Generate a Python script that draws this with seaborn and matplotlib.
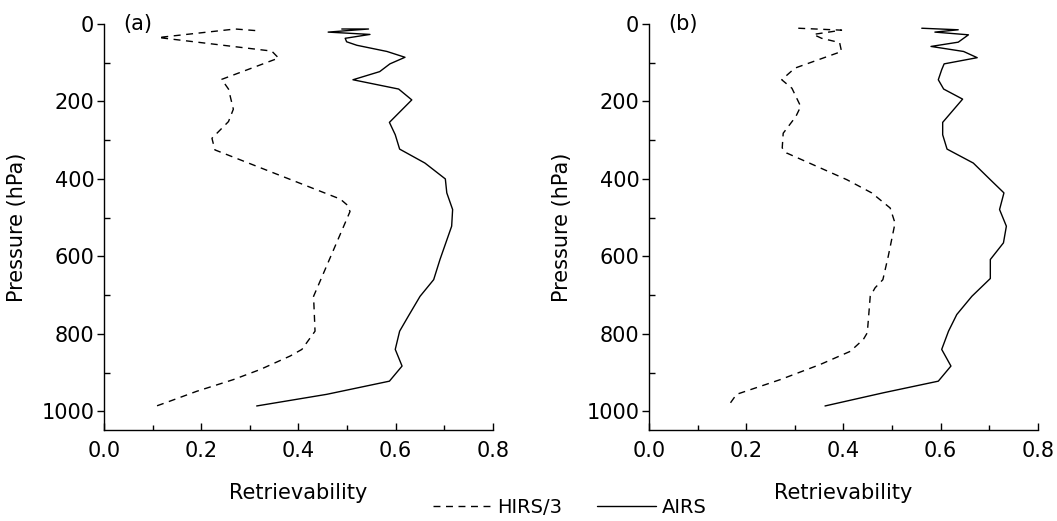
import matplotlib
matplotlib.use('Agg')
import matplotlib.pyplot as plt
import seaborn as sns
from matplotlib.ticker import MultipleLocator
from matplotlib.lines import Line2D

# values
hirs_a_x = [0.311, 0.27, 0.112, 0.345, 0.359, 0.242, 0.256, 0.266, 0.256, 0.222, 0.228,
            0.486, 0.499, 0.506, 0.431, 0.434, 0.407, 0.383, 0.321, 0.266, 0.191, 0.126, 0.108]
hirs_a_p = [17, 13, 35, 70, 88, 143, 168, 220, 252, 295, 325,
            452, 466, 484, 703, 793, 840, 857, 892, 918, 948, 978, 986]

airs_a_x = [0.489, 0.544, 0.461, 0.547, 0.496, 0.499, 0.52, 0.582, 0.619, 0.588, 0.567,
            0.512, 0.606, 0.633, 0.587, 0.599, 0.608, 0.660, 0.702, 0.705, 0.717, 0.715,
            0.691, 0.678, 0.650, 0.626, 0.608, 0.599, 0.613, 0.587, 0.458, 0.314]
airs_a_p = [13, 13, 21, 27, 37, 46, 55, 71, 86, 103, 123,
            144, 168, 196, 254, 286, 323, 359, 400, 436, 479, 522,
            608, 660, 703, 754, 793, 840, 883, 922, 956, 986]

hirs_b_x = [0.307, 0.396, 0.338, 0.355, 0.392, 0.396, 0.300, 0.273, 0.294, 0.312, 0.302,
            0.276, 0.274, 0.283, 0.407, 0.458, 0.496, 0.506, 0.492, 0.481, 0.465, 0.455,
            0.449, 0.441, 0.414, 0.352, 0.270, 0.180, 0.163]
hirs_b_p = [11, 16, 27, 37, 48, 71, 114, 144, 166, 213, 239,
            282, 320, 333, 402, 436, 475, 514, 600, 660, 681, 703,
            797, 814, 845, 879, 918, 956, 986]

airs_b_x = [0.561, 0.636, 0.588, 0.657, 0.636, 0.580, 0.647, 0.675, 0.607, 0.602, 0.595,
            0.606, 0.645, 0.604, 0.604, 0.613, 0.667, 0.702, 0.730, 0.721, 0.735, 0.729,
            0.702, 0.702, 0.664, 0.633, 0.616, 0.602, 0.621, 0.595, 0.482, 0.362]
airs_b_p = [11, 15, 21, 28, 47, 58, 71, 87, 103, 118, 144,
            168, 194, 254, 286, 323, 359, 402, 436, 479, 522, 565,
            608, 657, 703, 750, 793, 840, 883, 922, 952, 986]

panel_names = ['(a)', '(b)']
series_names = ['HIRS/3', 'AIRS']

sns.set_style('ticks')
plt.rcParams['font.family'] = ['DejaVu Sans']
plt.rcParams['font.size'] = 15
plt.rcParams['text.color'] = 'black'
plt.rcParams['axes.labelcolor'] = 'black'
plt.rcParams['xtick.color'] = 'black'
plt.rcParams['ytick.color'] = 'black'

fig = plt.figure(figsize=(10.57, 5.21), dpi=100)
ax_a = fig.add_axes([0.0984, 0.1747, 0.368, 0.7793])
ax_b = fig.add_axes([0.614, 0.1747, 0.368, 0.7793])

panels = [(ax_a, hirs_a_x, hirs_a_p, airs_a_x, airs_a_p),
          (ax_b, hirs_b_x, hirs_b_p, airs_b_x, airs_b_p)]

for (ax, hx, hp, axx, ap), name in zip(panels, panel_names):
    sns.lineplot(x=hx, y=hp, sort=False, estimator=None, color='black',
                 lw=1.0, ax=ax, legend=False)
    ax.lines[-1].set_dashes((5, 4))
    sns.lineplot(x=axx, y=ap, sort=False, estimator=None, color='black',
                 lw=1.0, ax=ax, legend=False)

    ax.set_xlim(0, 0.8)
    ax.set_ylim(1048, 0)
    ax.xaxis.set_major_locator(MultipleLocator(0.2))
    ax.xaxis.set_minor_locator(MultipleLocator(0.1))
    ax.yaxis.set_major_locator(MultipleLocator(200))
    ax.yaxis.set_minor_locator(MultipleLocator(100))
    ax.xaxis.set_major_formatter(lambda v, pos: f'{v:.1f}')
    ax.tick_params(axis='x', which='major', direction='in', length=5, width=1,
                   labelsize=15, pad=8)
    ax.tick_params(axis='x', which='minor', direction='in', length=3.5, width=1)
    ax.tick_params(axis='y', which='major', direction='out', length=5, width=1,
                   labelsize=15, pad=2)
    ax.tick_params(axis='y', which='minor', direction='in', length=4, width=1)
    for s in ['top', 'right']:
        ax.spines[s].set_visible(False)
    for s in ['left', 'bottom']:
        ax.spines[s].set_linewidth(1)
        ax.spines[s].set_color('black')

    ax.set_xlabel('Retrievability', fontsize=15, labelpad=16)
    ax.set_ylabel('Pressure (hPa)', fontsize=15, labelpad=10)
    ax.text(0.05, 1.0, name, transform=ax.transAxes, fontsize=15,
            va='center', ha='left')

handles = [Line2D([], [], color='black', lw=1.0, dashes=(5, 4)),
           Line2D([], [], color='black', lw=1.0)]
fig.legend(handles, series_names, loc='center', bbox_to_anchor=(0.539, 0.026),
           ncol=2, frameon=False, fontsize=14, handlelength=3.0,
           handletextpad=0.3, columnspacing=1.8)

fig.savefig('out.png', dpi=100)
